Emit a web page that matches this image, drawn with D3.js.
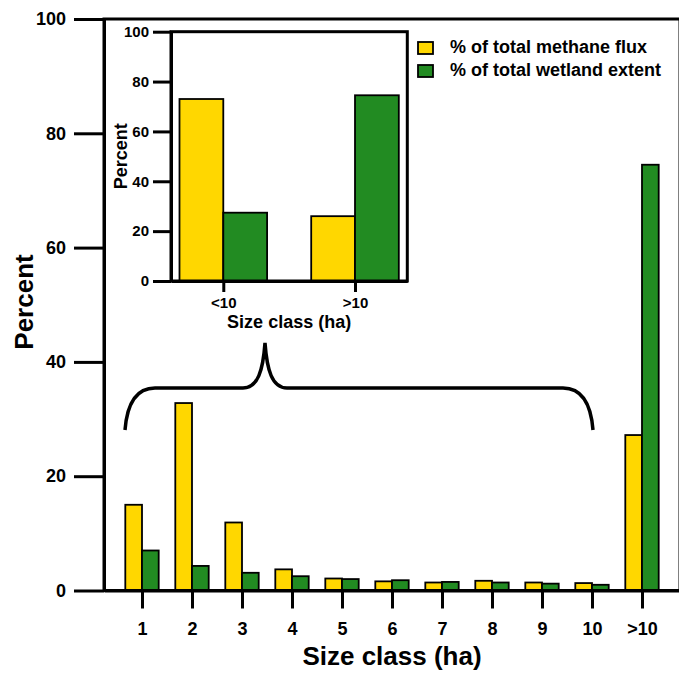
<!DOCTYPE html>
<html>
<head>
<meta charset="utf-8">
<script src="https://cdn.jsdelivr.net/npm/d3@7"></script>
<style>
  body { margin: 0; background: #fff; }
  svg text { font-family: "Liberation Sans", Arial, sans-serif; font-weight: bold; fill: #000; }
</style>
</head>
<body>
<div class="chart"></div>
<script>
'use strict';
// Data
var categories = ['1', '2', '3', '4', '5', '6', '7', '8', '9', '10', '>10'];
var methaneFlux = [15.0, 32.8, 11.9, 3.7, 2.1, 1.6, 1.4, 1.7, 1.4, 1.3, 27.2];
var wetlandExtent = [7.0, 4.3, 3.1, 2.5, 2.0, 1.8, 1.5, 1.4, 1.2, 1.0, 74.5];
var yTicks = [0, 20, 40, 60, 80, 100];

var insetCategories = ['<10', '>10'];
var insetFlux = [73.0, 26.0];
var insetExtent = [27.4, 74.5];

var seriesNames = ['% of total methane flux', '% of total wetland extent'];
var COLORS = ['#FFD700', '#228B22'];

(function() {
  var w = 679;
  var h = 675;

  var svg = d3.select('.chart')
    .append('svg')
    .attr('width', w)
    .attr('height', h);

  // ---- Main chart ----
  var left = 104, right = 680, top = 19, bottom = 590.5;
  var barW = 16.7;

  var xScale = d3.scalePoint()
    .domain(categories)
    .range([left, right])
    .padding(0.76);

  var yScale = d3.scaleLinear()
    .domain([0, 100])
    .range([bottom, top]);

  var rows = categories.map(function(c, i) {
    return { cat: c, flux: methaneFlux[i], extent: wetlandExtent[i] };
  });

  // Bars
  var bars = svg.append('g').attr('class', 'bars');
  bars.selectAll('rect.flux')
    .data(rows)
    .enter()
    .append('rect')
    .attr('x', function(d) { return xScale(d.cat) - barW; })
    .attr('y', function(d) { return yScale(d.flux); })
    .attr('width', barW)
    .attr('height', function(d) { return bottom - yScale(d.flux); })
    .attr('fill', COLORS[0])
    .attr('stroke', '#000')
    .attr('stroke-width', 1.8);
  bars.selectAll('rect.extent')
    .data(rows)
    .enter()
    .append('rect')
    .attr('x', function(d) { return xScale(d.cat); })
    .attr('y', function(d) { return yScale(d.extent); })
    .attr('width', barW)
    .attr('height', function(d) { return bottom - yScale(d.extent); })
    .attr('fill', COLORS[1])
    .attr('stroke', '#000')
    .attr('stroke-width', 1.8);

  // Frame
  svg.append('rect')
    .attr('x', left)
    .attr('y', top)
    .attr('width', right - left)
    .attr('height', bottom - top)
    .attr('fill', 'none')
    .attr('stroke', '#000')
    .attr('stroke-width', 3);

  // Y axis
  var yAxis = d3.axisLeft(yScale)
    .tickValues(yTicks)
    .tickSizeInner(30)
    .tickSizeOuter(0)
    .tickPadding(8);
  var gy = svg.append('g')
    .attr('transform', 'translate(' + left + ',0)')
    .call(yAxis);
  gy.select('.domain').attr('stroke-width', 3);
  gy.selectAll('line').attr('stroke-width', 3);
  gy.selectAll('text').style('font-size', '18px');

  // X axis
  var xAxis = d3.axisBottom(xScale)
    .tickSizeInner(18)
    .tickSizeOuter(0)
    .tickPadding(14);
  var gx = svg.append('g')
    .attr('transform', 'translate(0,' + bottom + ')')
    .call(xAxis);
  gx.select('.domain').attr('stroke-width', 3);
  gx.selectAll('line').attr('stroke-width', 3);
  gx.selectAll('text').style('font-size', '18px');

  // Axis titles
  svg.append('text')
    .attr('transform', 'translate(33,302) rotate(-90)')
    .attr('text-anchor', 'middle')
    .style('font-size', '26px')
    .text('Percent');
  svg.append('text')
    .attr('x', (left + right) / 2)
    .attr('y', 665)
    .attr('text-anchor', 'middle')
    .style('font-size', '26px')
    .text('Size class (ha)');

  // Brace spanning classes 1-10
  var bx0 = xScale('1') - 17;
  var bx1 = xScale('10') + 1;
  var bPeak = xScale('3') + 23;
  var bEnd = 430, bMid = 388, bTop = 343;
  svg.append('path')
    .attr('d',
      'M' + bx0 + ',' + bEnd +
      ' C' + (bx0 + 2) + ',' + (bEnd - 25) + ' ' + (bx0 + 10) + ',' + bMid + ' ' + (bx0 + 30) + ',' + bMid +
      ' L' + (bPeak - 22) + ',' + bMid +
      ' C' + (bPeak - 7) + ',' + bMid + ' ' + (bPeak - 2) + ',' + (bMid - 18) + ' ' + bPeak + ',' + bTop +
      ' C' + (bPeak + 2) + ',' + (bMid - 18) + ' ' + (bPeak + 7) + ',' + bMid + ' ' + (bPeak + 22) + ',' + bMid +
      ' L' + (bx1 - 30) + ',' + bMid +
      ' C' + (bx1 - 10) + ',' + bMid + ' ' + (bx1 - 2) + ',' + (bEnd - 25) + ' ' + bx1 + ',' + bEnd)
    .attr('fill', 'none')
    .attr('stroke', '#000')
    .attr('stroke-width', 3.5);

  // Legend
  var legend = svg.append('g')
    .attr('class', 'legend')
    .selectAll('g')
    .data(seriesNames)
    .enter()
    .append('g')
    .attr('transform', function(d, i) { return 'translate(418,' + (42 + i * 23) + ')'; });
  legend.append('rect')
    .attr('width', 15)
    .attr('height', 12)
    .attr('fill', function(d, i) { return COLORS[i]; })
    .attr('stroke', '#000')
    .attr('stroke-width', 1.8);
  legend.append('text')
    .attr('x', 32)
    .attr('y', 11)
    .style('font-size', '18px')
    .text(function(d) { return d; });

  // ---- Inset ----
  var iLeft = 171, iRight = 407.3, iTop = 31.7, iBottom = 281;
  var iBarW = 43.8;

  var ixScale = d3.scalePoint()
    .domain(insetCategories)
    .range([iLeft, iRight])
    .padding(0.397);
  var iyScale = d3.scaleLinear()
    .domain([0, 100])
    .range([iBottom, iTop]);

  var iRows = insetCategories.map(function(c, i) {
    return { cat: c, flux: insetFlux[i], extent: insetExtent[i] };
  });

  var inset = svg.append('g').attr('class', 'inset');
  inset.append('rect')
    .attr('x', iLeft)
    .attr('y', iTop)
    .attr('width', iRight - iLeft)
    .attr('height', iBottom - iTop)
    .attr('fill', '#fff');

  inset.selectAll('rect.flux')
    .data(iRows)
    .enter()
    .append('rect')
    .attr('x', function(d) { return ixScale(d.cat) - iBarW; })
    .attr('y', function(d) { return iyScale(d.flux); })
    .attr('width', iBarW)
    .attr('height', function(d) { return iBottom - iyScale(d.flux); })
    .attr('fill', COLORS[0])
    .attr('stroke', '#000')
    .attr('stroke-width', 1.8);
  inset.selectAll('rect.extent')
    .data(iRows)
    .enter()
    .append('rect')
    .attr('x', function(d) { return ixScale(d.cat); })
    .attr('y', function(d) { return iyScale(d.extent); })
    .attr('width', iBarW)
    .attr('height', function(d) { return iBottom - iyScale(d.extent); })
    .attr('fill', COLORS[1])
    .attr('stroke', '#000')
    .attr('stroke-width', 1.8);

  inset.append('rect')
    .attr('x', iLeft)
    .attr('y', iTop)
    .attr('width', iRight - iLeft)
    .attr('height', iBottom - iTop)
    .attr('fill', 'none')
    .attr('stroke', '#000')
    .attr('stroke-width', 3);

  var iyAxis = d3.axisLeft(iyScale)
    .tickValues(yTicks)
    .tickSizeInner(18)
    .tickSizeOuter(0)
    .tickPadding(4);
  var igy = inset.append('g')
    .attr('transform', 'translate(' + iLeft + ',0)')
    .call(iyAxis);
  igy.select('.domain').attr('stroke-width', 3);
  igy.selectAll('line').attr('stroke-width', 3);
  igy.selectAll('text').style('font-size', '15px');

  var ixAxis = d3.axisBottom(ixScale)
    .tickSizeInner(11)
    .tickSizeOuter(0)
    .tickPadding(5);
  var igx = inset.append('g')
    .attr('transform', 'translate(0,' + iBottom + ')')
    .call(ixAxis);
  igx.select('.domain').attr('stroke-width', 3);
  igx.selectAll('line').attr('stroke-width', 3);
  igx.selectAll('text').style('font-size', '15px');

  inset.append('text')
    .attr('transform', 'translate(127,' + ((iTop + iBottom) / 2) + ') rotate(-90)')
    .attr('text-anchor', 'middle')
    .style('font-size', '18px')
    .text('Percent');
  inset.append('text')
    .attr('x', (iLeft + iRight) / 2)
    .attr('y', 328)
    .attr('text-anchor', 'middle')
    .style('font-size', '18px')
    .text('Size class (ha)');
})();
</script>
</body>
</html>
